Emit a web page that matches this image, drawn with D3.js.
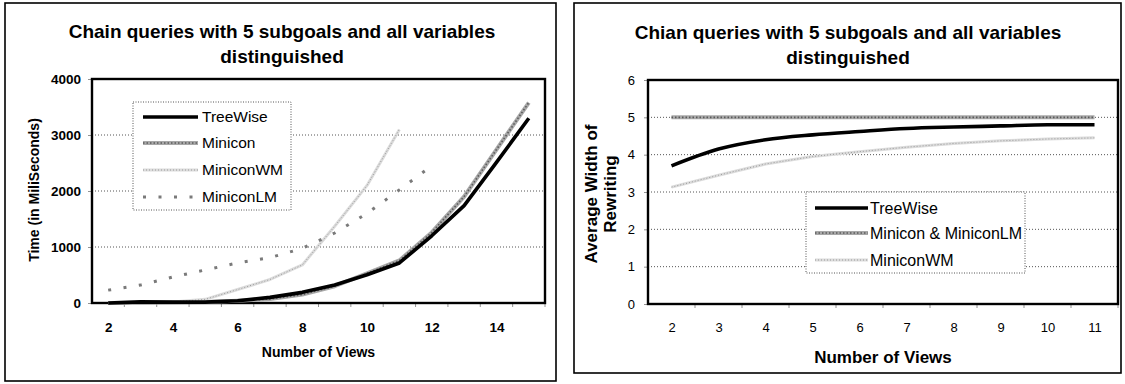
<!DOCTYPE html>
<html>
<head>
<meta charset="utf-8">
<script src="https://cdn.jsdelivr.net/npm/d3@7/dist/d3.min.js"></script>
<style>
  html, body { margin: 0; padding: 0; background: #fff; }
  svg { display: block; }
  text { font-family: "Liberation Sans", Arial, sans-serif; fill: #000; }
</style>
</head>
<body>
<svg id="chart" width="1125" height="384"></svg>
<script>
// ---------- Data ----------
// Left chart: time vs number of views
const leftViews = [2, 3, 4, 5, 6, 7, 8, 9, 10, 11, 12, 13, 14, 15];
const leftTickLabels = [2, 4, 6, 8, 10, 12, 14];
const leftYTicks = [0, 1000, 2000, 3000, 4000];
const treeWiseTime = [0, 20, 15, 15, 40, 100, 190, 320, 505, 715, 1200, 1740, 2510, 3300];
const miniconTime = [0, 5, 10, 20, 40, 70, 150, 300, 530, 760, 1260, 1900, 2740, 3580];
const miniconWMViews = [2, 3, 4, 5, 6, 7, 8, 9, 10, 11];
const miniconWMTime = [5, 10, 20, 65, 240, 420, 680, 1370, 2100, 3100];
const miniconLMViews = [2, 3, 4, 5, 6, 7, 8, 9, 10, 11, 12];
const miniconLMTime = [230, 320, 465, 590, 715, 810, 975, 1250, 1600, 2020, 2450];

// Right chart: average width of rewriting vs number of views
const rightViews = [2, 3, 4, 5, 6, 7, 8, 9, 10, 11];
const rightYTicks = [0, 1, 2, 3, 4, 5, 6];
const treeWiseWidth = [3.7, 4.15, 4.4, 4.53, 4.62, 4.7, 4.74, 4.77, 4.8, 4.8];
const miniconWidth = [5, 5, 5, 5, 5, 5, 5, 5, 5, 5];
const miniconWMWidth = [3.13, 3.45, 3.75, 3.95, 4.08, 4.2, 4.3, 4.37, 4.42, 4.45];

const leftTitle = ["Chain queries with 5 subgoals and all variables", "distinguished"];
const rightTitle = ["Chian queries with 5 subgoals and all variables", "distinguished"];

// ---------- Styles ----------
const styles = {
  tree:  [{stroke: "#000", width: 3.6}],
  mini:  [{stroke: "#a8a8a8", width: 4}, {stroke: "#5a5a5a", width: 1.6, dash: "1.5,2"}],
  wm:    [{stroke: "#dcdcdc", width: 3}, {stroke: "#9a9a9a", width: 1, dash: "1,2"}],
  lm:    [{stroke: "#7a7a7a", width: 3, dash: "3,12.5"}]
};

const svg = d3.select("#chart");

function strokeLayers(g, styleList, dAttr) {
  styleList.forEach(s => {
    g.append("path").attr("d", dAttr).attr("fill", "none")
      .attr("stroke", s.stroke).attr("stroke-width", s.width)
      .attr("stroke-dasharray", s.dash || null)
      .attr("stroke-linejoin", "round");
  });
}

function drawChart(cfg) {
  const g = svg.append("g");
  // outer border
  g.append("rect").attr("x", cfg.outer[0]).attr("y", cfg.outer[1])
    .attr("width", cfg.outer[2] - cfg.outer[0]).attr("height", cfg.outer[3] - cfg.outer[1])
    .attr("fill", "#fff").attr("stroke", "#000").attr("stroke-width", 1.6);

  const x = d3.scalePoint().domain(cfg.views).range([cfg.plot.l, cfg.plot.r]).padding(0.5);
  const y = d3.scaleLinear().domain([cfg.yTicks[0], cfg.yTicks[cfg.yTicks.length - 1]]).range([cfg.plot.b, cfg.plot.t]);

  // title
  cfg.title.forEach((t, i) => {
    g.append("text").attr("x", cfg.titleX).attr("y", cfg.titleY[i])
      .attr("text-anchor", "middle").attr("font-weight", "bold")
      .attr("font-size", cfg.titleSize).text(t);
  });

  // gridlines
  g.selectAll(null).data(cfg.yTicks.slice(1, -1)).enter().append("line")
    .attr("x1", cfg.plot.l).attr("x2", cfg.plot.r)
    .attr("y1", d => y(d)).attr("y2", d => y(d))
    .attr("stroke", "#555").attr("stroke-width", 1).attr("stroke-dasharray", "1,2");

  // y axis
  const yAxis = d3.axisLeft(y).tickValues(cfg.yTicks).tickSize(4).tickPadding(cfg.yPad).tickFormat(d3.format("d"));
  const ya = g.append("g").attr("transform", `translate(${cfg.plot.l},0)`).call(yAxis);
  ya.select(".domain").remove();
  ya.selectAll(".tick line").attr("stroke", "#777").attr("stroke-width", 0.8);
  ya.selectAll(".tick text").attr("font-size", cfg.tickSize).attr("font-weight", cfg.tickWeight)
    .attr("font-family", '"Liberation Sans", Arial, sans-serif').attr("fill", "#000");

  // x axis
  const xAxis = d3.axisBottom(x).tickValues(cfg.xLabels).tickSize(0).tickPadding(cfg.xPad);
  const xa = g.append("g").attr("transform", `translate(0,${cfg.plot.b})`).call(xAxis);
  xa.select(".domain").remove();
  xa.selectAll(".tick text").attr("font-size", cfg.tickSize).attr("font-weight", cfg.tickWeight)
    .attr("font-family", '"Liberation Sans", Arial, sans-serif').attr("fill", "#000");
  // category boundary tick marks
  const step = x.step();
  g.selectAll(null).data(cfg.views).enter().append("line")
    .attr("x1", d => x(d) + step / 2).attr("x2", d => x(d) + step / 2)
    .attr("y1", cfg.plot.b).attr("y2", cfg.plot.b + 4)
    .attr("stroke", "#777").attr("stroke-width", 0.8);

  // plot border
  g.append("rect").attr("x", cfg.plot.l).attr("y", cfg.plot.t)
    .attr("width", cfg.plot.r - cfg.plot.l).attr("height", cfg.plot.b - cfg.plot.t)
    .attr("fill", "none").attr("stroke", "#000").attr("stroke-width", 2.4);

  // series
  cfg.series.forEach(s => {
    const line = d3.line().x((d, i) => x(s.views[i])).y(d => y(d)).curve(s.curve || d3.curveLinear);
    strokeLayers(g, s.style, line(s.values));
  });

  // axis titles
  g.append("text").attr("x", (cfg.plot.l + cfg.plot.r) / 2).attr("y", cfg.xTitleY)
    .attr("text-anchor", "middle").attr("font-weight", "bold").attr("font-size", cfg.xTitleSize)
    .text("Number of Views");
  cfg.yTitle.forEach((t, i) => {
    g.append("text").attr("transform", `translate(${cfg.yTitleX[i]},${cfg.yTitleCY}) rotate(-90)`)
      .attr("text-anchor", "middle").attr("font-weight", "bold").attr("font-size", cfg.yTitleSize)
      .text(t);
  });

  // legend
  const L = cfg.legend;
  g.append("rect").attr("x", L.box[0]).attr("y", L.box[1])
    .attr("width", L.box[2] - L.box[0]).attr("height", L.box[3] - L.box[1])
    .attr("fill", "#fff").attr("stroke", "#555").attr("stroke-width", 1).attr("stroke-dasharray", "1,1.5");
  L.items.forEach((it, i) => {
    const yy = L.ys[i];
    strokeLayers(g, it.style, `M${L.lineX[0]},${yy}L${L.lineX[1]},${yy}`);
    g.append("text").attr("x", L.textX).attr("y", yy).attr("dy", "0.35em")
      .attr("font-size", L.fontSize).text(it.label);
  });
}

drawChart({
  outer: [5, 3, 556, 381],
  plot: {l: 92, r: 545, t: 79, b: 303},
  views: leftViews, xLabels: leftTickLabels, yTicks: leftYTicks,
  title: leftTitle, titleX: 282, titleY: [38, 63], titleSize: 19,
  tickSize: 13.5, tickWeight: "bold", yPad: 7, xPad: 19,
  xTitleY: 357, xTitleSize: 14,
  yTitle: ["Time (in MiliSeconds)"], yTitleX: [39], yTitleCY: 190, yTitleSize: 14,
  series: [
    {views: leftViews, values: miniconTime, style: styles.mini},
    {views: miniconWMViews, values: miniconWMTime, style: styles.wm},
    {views: miniconLMViews, values: miniconLMTime, style: styles.lm},
    {views: leftViews, values: treeWiseTime, style: styles.tree}
  ],
  legend: {
    box: [133, 102, 291, 210], ys: [117, 143, 170, 197], lineX: [143, 198], textX: 202, fontSize: 15.5,
    items: [
      {label: "TreeWise", style: styles.tree},
      {label: "Minicon", style: styles.mini},
      {label: "MiniconWM", style: styles.wm},
      {label: "MiniconLM", style: styles.lm}
    ]
  }
});

drawChart({
  outer: [574, 3, 1121, 373],
  plot: {l: 648, r: 1118, t: 80, b: 304},
  views: rightViews, xLabels: rightViews, yTicks: rightYTicks,
  title: rightTitle, titleX: 848, titleY: [39, 64], titleSize: 19,
  tickSize: 13, tickWeight: "normal", yPad: 9, xPad: 19,
  xTitleY: 363, xTitleSize: 17,
  yTitle: ["Average Width of", "Rewriting"], yTitleX: [597, 616], yTitleCY: 194, yTitleSize: 17,
  series: [
    {views: rightViews, values: miniconWMWidth, style: styles.wm},
    {views: rightViews, values: miniconWidth, style: styles.mini},
    {views: rightViews, values: treeWiseWidth, style: styles.tree, curve: d3.curveMonotoneX}
  ],
  legend: {
    box: [806, 192, 1025, 273], ys: [208, 233, 260], lineX: [815, 868], textX: 870, fontSize: 16,
    items: [
      {label: "TreeWise", style: styles.tree},
      {label: "Minicon & MiniconLM", style: styles.mini},
      {label: "MiniconWM", style: styles.wm}
    ]
  }
});
</script>
</body>
</html>
